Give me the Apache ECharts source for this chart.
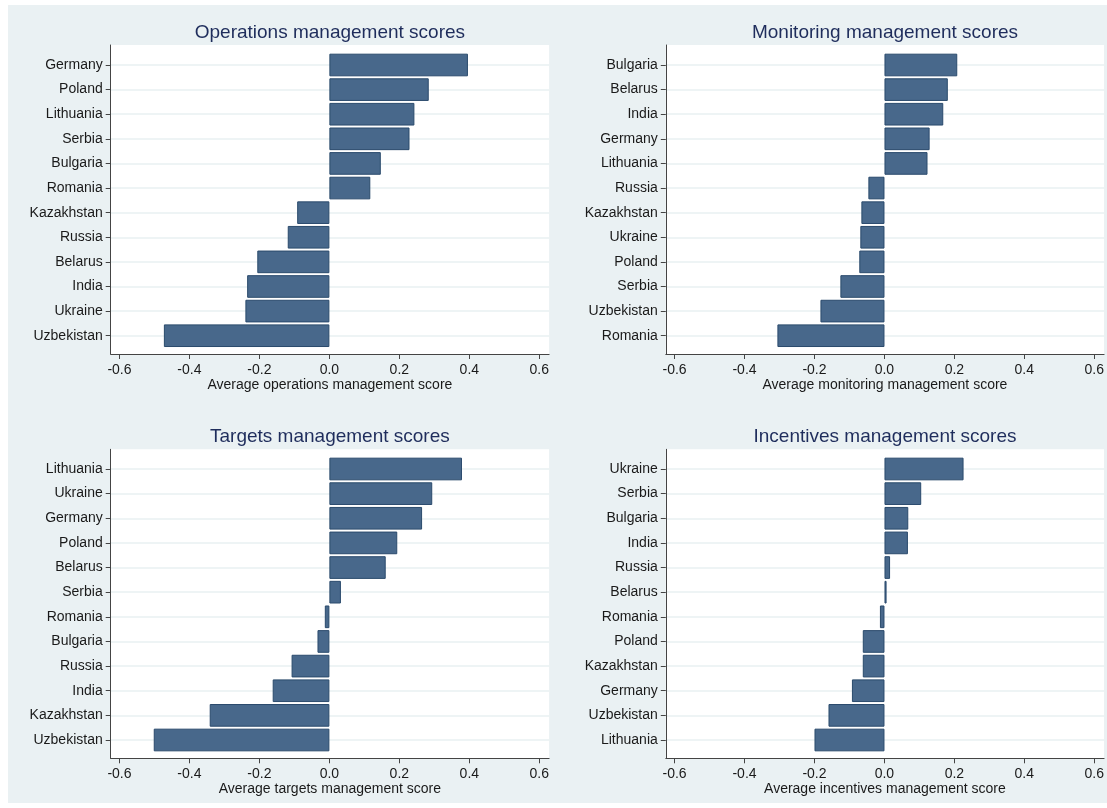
<!DOCTYPE html>
<html>
<head>
<meta charset="utf-8">
<script src="https://cdn.jsdelivr.net/npm/echarts@6/dist/echarts.min.js"></script>
<style>
html,body{margin:0;padding:0;background:#fff;}
#chart{width:1107px;height:808px;}
</style>
</head>
<body>
<div id="chart"></div>
<script>
// ---- data ----
const titles = ['Operations management scores','Monitoring management scores','Targets management scores','Incentives management scores'];
const axisNames = ['Average operations management score','Average monitoring management score','Average targets management score','Average incentives management score'];

const opsCountries = ['Germany','Poland','Lithuania','Serbia','Bulgaria','Romania','Kazakhstan','Russia','Belarus','India','Ukraine','Uzbekistan'];
const opsValues = [0.396,0.284,0.243,0.229,0.147,0.117,-0.092,-0.119,-0.206,-0.235,-0.240,-0.473];

const monCountries = ['Bulgaria','Belarus','India','Germany','Lithuania','Russia','Kazakhstan','Ukraine','Poland','Serbia','Uzbekistan','Romania'];
const monValues = [0.208,0.181,0.168,0.129,0.123,-0.046,-0.066,-0.069,-0.072,-0.126,-0.183,-0.306];

const tarCountries = ['Lithuania','Ukraine','Germany','Poland','Belarus','Serbia','Romania','Bulgaria','Russia','India','Kazakhstan','Uzbekistan'];
const tarValues = [0.379,0.294,0.265,0.194,0.161,0.033,-0.013,-0.034,-0.108,-0.162,-0.342,-0.502];

const incCountries = ['Ukraine','Serbia','Bulgaria','India','Russia','Belarus','Romania','Poland','Kazakhstan','Germany','Uzbekistan','Lithuania'];
const incValues = [0.226,0.105,0.068,0.067,0.016,0.006,-0.013,-0.062,-0.062,-0.093,-0.160,-0.200];

const xTicks = [-0.6,-0.4,-0.2,0.0,0.2,0.4,0.6];

// ---- layout / style ----
const FONT = '"Liberation Sans", Arial, sans-serif';
const BG = '#eaf1f3';
const GRIDLINE = '#e8f0f2';
const BAR = '#48688b';
const BAR_BORDER = '#2a4a6c';
const TITLE_COLOR = '#1f2d5c';
const XMIN = -0.625, XMAX = 0.628;

const panels = [
  {cats: opsCountries, vals: opsValues, left: 110.7, top: 45,    innerTop: 65,  innerH: 270.7},
  {cats: monCountries, vals: monValues, left: 665.8, top: 45,    innerTop: 65,  innerH: 270.7},
  {cats: tarCountries, vals: tarValues, left: 110.7, top: 449.3, innerTop: 469, innerH: 271},
  {cats: incCountries, vals: incValues, left: 665.8, top: 449.3, innerTop: 469, innerH: 271}
];
const PW = 438.4, PH = 309;

const grid = [], xAxis = [], yAxis = [], series = [], title = [];
panels.forEach((p, i) => {
  const outer = 2 * i, inner = 2 * i + 1;
  grid.push({left: p.left, top: p.top, width: PW, height: PH, show: true,
             backgroundColor: '#ffffff', borderWidth: 0, containLabel: false});
  grid.push({left: p.left, top: p.innerTop, width: PW, height: p.innerH, containLabel: false});
  // outer axes
  xAxis.push({gridIndex: outer, type: 'value', min: XMIN, max: XMAX,
    name: axisNames[i], nameLocation: 'middle', nameGap: 24,
    nameTextStyle: {fontFamily: FONT, fontSize: 14, color: '#1a1a1a'},
    axisLine: {show: true, onZero: false, lineStyle: {color: '#444', width: 1}},
    axisTick: {show: true, length: 5, customValues: xTicks, lineStyle: {color: '#444'}},
    axisLabel: {customValues: xTicks, margin: 9, fontFamily: FONT, fontSize: 14, color: '#1a1a1a',
      formatter: v => v.toFixed(1)},
    splitLine: {show: false}});
  yAxis.push({gridIndex: outer, type: 'value', min: 0, max: 1,
    axisLine: {show: true, onZero: false, lineStyle: {color: '#444', width: 1}},
    axisTick: {show: false}, axisLabel: {show: false}, splitLine: {show: false}});
  // inner axes
  xAxis.push({gridIndex: inner, type: 'value', min: XMIN, max: XMAX, show: false,
    axisLine: {onZero: false}, splitLine: {show: false}});
  yAxis.push({gridIndex: inner, type: 'category', data: p.cats, inverse: true, boundaryGap: false,
    position: 'left',
    axisLine: {show: false, onZero: false},
    axisTick: {show: true, length: 5, lineStyle: {color: '#444'}},
    axisLabel: {margin: 8, fontFamily: FONT, fontSize: 14, color: '#1a1a1a', interval: 0},
    splitLine: {show: true, interval: 0, lineStyle: {color: GRIDLINE, width: 1.5}}});
  series.push({type: 'bar', xAxisIndex: inner, yAxisIndex: inner, data: p.vals,
    barWidth: '92%', clip: false,
    itemStyle: {color: BAR, borderColor: BAR_BORDER, borderWidth: 1},
    silent: true, animation: false});
  title.push({text: titles[i], left: p.left + PW / 2, top: p.top - 22, textAlign: 'center', padding: 0,
    textStyle: {fontFamily: FONT, fontSize: 19, fontWeight: 'normal', color: TITLE_COLOR}});
});

const chart = echarts.init(document.getElementById('chart'), null, {renderer: 'canvas'});
chart.setOption({
  backgroundColor: '#ffffff',
  animation: false,
  graphic: [{type: 'rect', left: 8, top: 5, shape: {width: 1099, height: 798}, style: {fill: BG}, z: -100, silent: true}],
  title, grid, xAxis, yAxis, series
});
</script>
</body>
</html>
